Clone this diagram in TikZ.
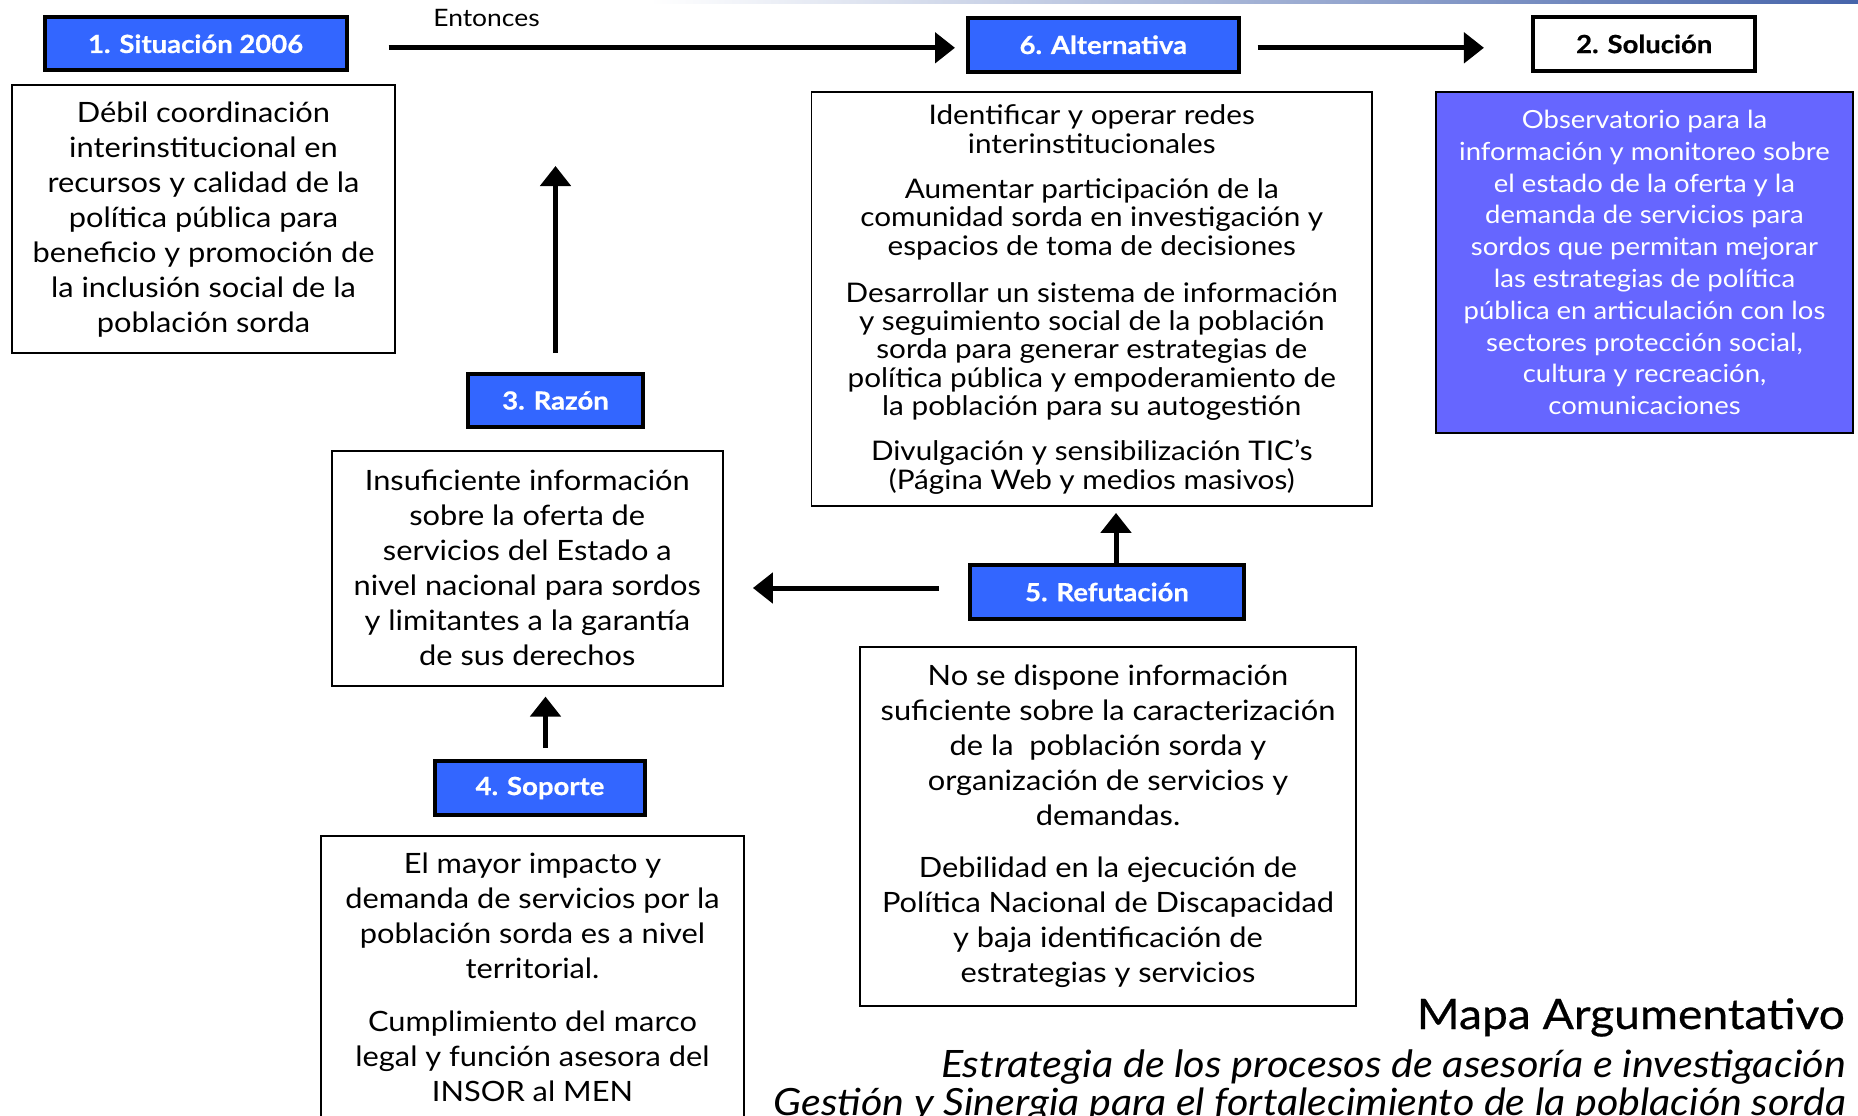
\documentclass[tikz,border=0pt]{standalone}
\usepackage{fontspec}
\setmainfont[FakeStretch=1.1]{Lato}
\newfontfamily\hdrfont[FakeStretch=1.1,FakeBold=0.6]{Lato}
\newfontfamily\medfont[FakeStretch=1.1,FakeBold=0.6]{Lato}
\usetikzlibrary{arrows.meta}
\definecolor{hdrblue}{RGB}{51,102,255}
\definecolor{solblue}{RGB}{102,102,255}
\definecolor{topline}{RGB}{70,100,170}
\tikzset{
  hdr/.style={draw=black, line width=4pt, fill=hdrblue, text=white, inner sep=0pt,
    font=\fontsize{25}{30}\selectfont\hdrfont\bfseries},
  cbox/.style={draw=black, line width=1.8pt, inner sep=0pt},
  ctext/.style={align=center, inner sep=0pt, font=\fontsize{28}{35}\selectfont},
  arr/.style={line width=5pt, -{Triangle[length=20pt,width=30pt]}},
}
\begin{document}
\begin{tikzpicture}[x=1pt,y=-1pt]
\useasboundingbox[fill=white] (0,0) rectangle (1858,1116);
\fill[left color=white, right color=topline] (650,0) rectangle (1858,3.5);

% headers
\node[hdr, minimum width=302, minimum height=53] (sit) at (195.6,43.8) {1. Situación 2006};
\node[hdr, minimum width=270.6, minimum height=54] (alt) at (1103.3,44.8) {6. Alternativa};
\node[hdr, fill=white, text=black, minimum width=222.5, minimum height=53.7] (sol) at (1644.2,43.9) {2. Solución};
\node[hdr, minimum width=175, minimum height=53] (raz) at (555.5,400.5) {3. Razón};
\node[hdr, minimum width=274, minimum height=54] (ref) at (1107,592) {5. Refutación};
\node[hdr, minimum width=210, minimum height=54] (sop) at (540,788) {4. Soporte};

% content boxes
\node[cbox, minimum width=383, minimum height=268] (debil) at (203.5,219) {};
\node[ctext] (debiltxt) at (203.5,220) {Débil coordinación\\interinstitucional en\\recursos y calidad de la\\política pública para\\beneficio y promoción de\\la inclusión social de la\\población sorda};

\node[cbox, minimum width=391.4, minimum height=235] (insuf) at (527.3,568.2) {};
\node[ctext] (insuftxt) at (527.3,568) {Insuficiente información\\sobre la oferta de\\servicios del Estado a\\nivel nacional para sordos\\y limitantes a la garantía\\de sus derechos};

\node[cbox, minimum width=423, minimum height=320] (mayor) at (532.5,996) {};
\node[ctext] (mayortxt) at (532.5,977) {El mayor impacto y\\demanda de servicios por la\\población sorda es a nivel\\territorial.\\[18pt]Cumplimiento del marco\\legal y función asesora del\\INSOR al MEN};

\node[cbox, minimum width=496, minimum height=359] (nose) at (1108,826.5) {};
\node[ctext] (nosetxt) at (1108,826.5) {No se dispone información\\suficiente sobre la caracterización\\de la \ población sorda y\\organización de servicios y\\demandas.\\[17pt]Debilidad en la ejecución de\\Política Nacional de Discapacidad\\y baja identificación de\\estrategias y servicios};

\node[cbox, minimum width=560.5, minimum height=414] (altbox) at (1091.75,299) {};
\node[ctext, font=\fontsize{27}{28.3}\selectfont] (alttxt) at (1091.75,299.5) {Identificar y operar redes\\interinstitucionales\\[17pt]Aumentar participación de la\\comunidad sorda en investigación y\\espacios de toma de decisiones\\[19pt]Desarrollar un sistema de información\\y seguimiento social de la población\\sorda para generar estrategias de\\política pública y empoderamiento de\\la población para su autogestión\\[17pt]Divulgación y sensibilización TIC’s\\(Página Web y medios masivos)};

\node[cbox, line width=2.5pt, fill=solblue, minimum width=417, minimum height=341] (solbox) at (1644.5,262.5) {};
\node[ctext, text=white, font=\fontsize{25}{31.8}\selectfont] (soltxt) at (1644.5,262.5) {Observatorio para la\\información y monitoreo sobre\\el estado de la oferta y la\\demanda de servicios para\\sordos que permitan mejorar\\las estrategias de política\\pública en articulación con los\\sectores protección social,\\cultura y recreación,\\comunicaciones};

% labels
\node[inner sep=0pt, anchor=base, font=\fontsize{24}{28}\selectfont] (entonces) at (486.5,27) {Entonces};
\node[inner sep=0pt, anchor=base east, font=\fontsize{42}{48}\selectfont\medfont] (mapa) at (1845,1029) {Mapa Argumentativo};
\node[inner sep=0pt, anchor=base east, font=\fontsize{37.7}{42}\selectfont\itshape] (estr) at (1846,1077) {Estrategia de los procesos de asesoría e investigación};
\node[inner sep=0pt, anchor=base east, font=\fontsize{37.5}{42}\selectfont\itshape] (gest) at (1846,1115) {Gestión y Sinergia para el fortalecimiento de la población sorda};

% connectors
\coordinate (sitA) at ([shift={(40,4)}]sit.east);
\draw[arr, shorten >=11pt] (sitA) -- (sitA -| alt.west);
\coordinate (altA) at ([shift={(17,3)}]alt.east);
\draw[arr, shorten >=47pt] (altA) -- (altA -| sol.west);
\coordinate (razA) at ([shift={(0,-19)}]raz.north);
\coordinate (razup) at (555.5,166);
\draw[arr] (razA) -- (razup);
\coordinate (sopA) at ([shift={(5.5,-11)}]sop.north);
\draw[arr, shorten >=10pt] (sopA) -- (sopA |- insuf.south);
\coordinate (refA) at ([shift={(-29,-4)}]ref.west);
\draw[arr, shorten >=29pt] (refA) -- (refA -| insuf.east);
\coordinate (refB) at ([shift={(9,0)}]ref.north);
\draw[arr, shorten >=6pt] (refB) -- (refB |- altbox.south);
\end{tikzpicture}
\end{document}
